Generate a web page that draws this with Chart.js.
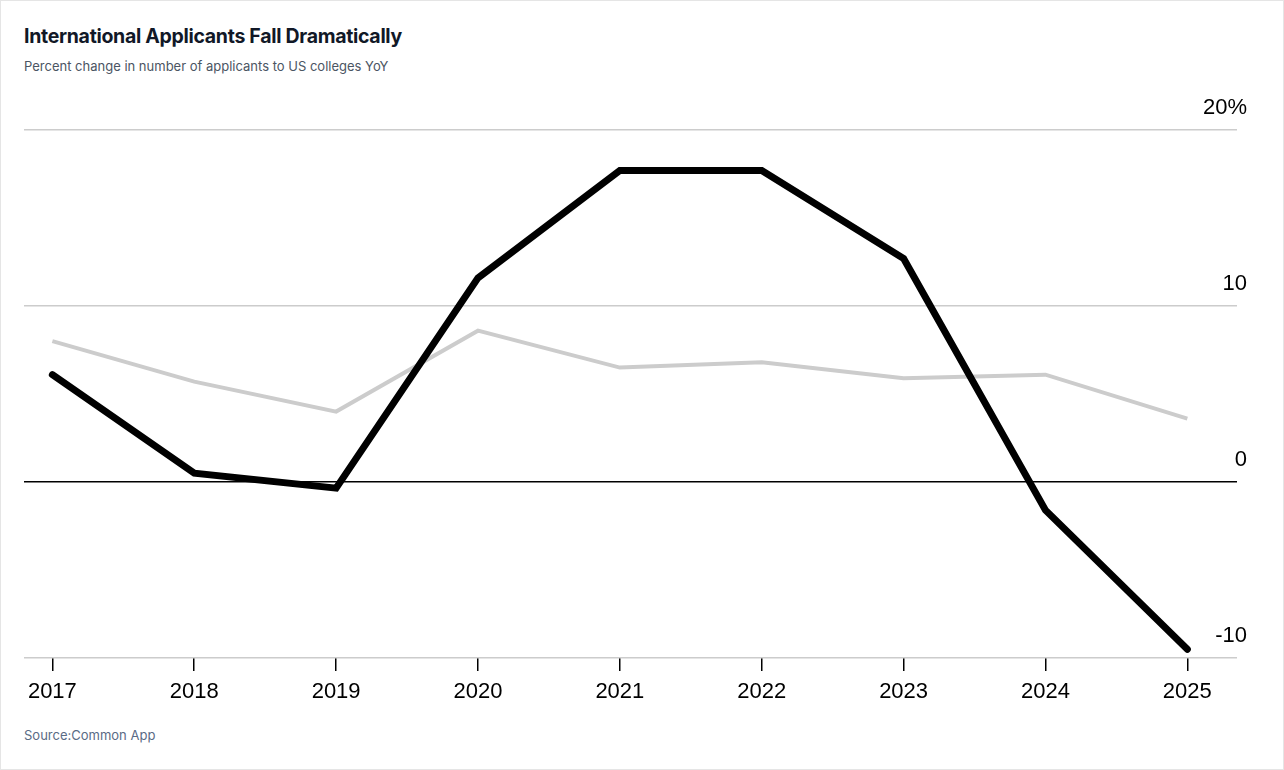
<!DOCTYPE html>
<html>
<head>
<meta charset="utf-8">
<script src="https://cdn.jsdelivr.net/npm/chart.js@4"></script>
<style>
  body { margin: 0; background: #fff; font-family: "Liberation Sans", Arial, sans-serif; }
  .frame { position: absolute; left: 0; top: 0; width: 1282px; height: 768px; border: 1px solid #e5e5e5; }
  h1 { position: absolute; left: 24px; top: 24px; margin: 0; font: bold 19.5px Inter, "Liberation Sans", sans-serif; color: #111827; letter-spacing: -0.3px; }
  .sub { position: absolute; left: 24px; top: 58px; font: 13px Inter, "Liberation Sans", sans-serif; color: #4b5563; }
  .src { position: absolute; left: 24px; top: 727px; font: 13px Inter, "Liberation Sans", sans-serif; color: #5a6b85; }
  #wrap { position: absolute; left: 0; top: 90px; width: 1284px; height: 630px; }
</style>
</head>
<body>
<div class="frame"></div>
<h1>International Applicants Fall Dramatically</h1>
<div class="sub">Percent change in number of applicants to US colleges YoY</div>
<div id="wrap"><canvas id="chart"></canvas></div>
<div class="src">Source:Common App</div>
<script>
var years = [2017, 2018, 2019, 2020, 2021, 2022, 2023, 2024, 2025];
var international = [6.1, 0.5, -0.35, 11.6, 17.7, 17.7, 12.7, -1.6, -9.5];
var allApplicants = [8.0, 5.7, 4.0, 8.6, 6.5, 6.8, 5.9, 6.1, 3.6];
var yTicks = [-10, 0, 10, 20];

function pts(vals) {
    return years.map(function (y, i) { return { x: y, y: vals[i] }; });
}

var ctx = document.getElementById('chart').getContext('2d');
var chart = new Chart(ctx, {
    type: 'line',
    data: {
        datasets: [
            { label: 'International', data: pts(international), borderColor: '#000', borderWidth: 7, pointRadius: 0, tension: 0, borderCapStyle: 'round', borderJoinStyle: 'miter' },
            { label: 'All', data: pts(allApplicants), borderColor: '#cccccc', borderWidth: 4, pointRadius: 0, tension: 0 }
        ]
    },
    options: {
        responsive: true,
        maintainAspectRatio: false,
        animation: false,
        layout: { padding: { left: 24, right: 47, top: 40, bottom: 0 } },
        plugins: { legend: { display: false }, tooltip: { enabled: false } },
        scales: {
            x: {
                type: 'linear',
                min: 2016.8,
                max: 2025.35,
                afterBuildTicks: function (s) { s.ticks = years.map(function (v) { return { value: v }; }); },
                afterFit: function (s) { s.height = 62; },
                border: { display: false },
                grid: { drawOnChartArea: false, drawTicks: true, tickLength: 13, color: '#000', lineWidth: 1.5 },
                ticks: { color: '#000', font: { size: 22, family: 'Liberation Sans' }, padding: 8, callback: function (v) { return String(v); } }
            },
            y: {
                position: 'right',
                min: -10,
                max: 20,
                afterBuildTicks: function (s) { s.ticks = yTicks.map(function (v) { return { value: v }; }); },
                afterFit: function (s) { s.width = 0; },
                border: { display: false },
                grid: {
                    drawTicks: false,
                    color: function (c) { return c.tick && c.tick.value === 0 ? '#000' : '#cccccc'; },
                    lineWidth: 1.5
                },
                ticks: {
                    mirror: true,
                    padding: 10,
                    labelOffset: -22,
                    color: '#000',
                    font: { size: 22, family: 'Liberation Sans' },
                    callback: function (v) { return v === 20 ? '20%' : String(v); }
                }
            }
        }
    }
});
</script>
</body>
</html>
